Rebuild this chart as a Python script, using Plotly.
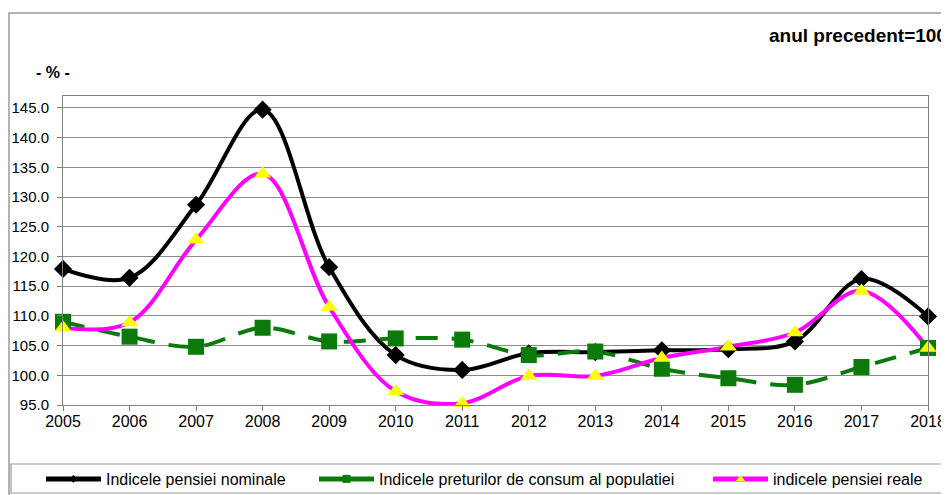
import plotly.graph_objects as go

years = list(range(2005, 2019))
nominal = [117.9, 116.4, 128.7, 144.7, 118.2, 103.4, 100.9, 103.7, 103.9, 104.2, 104.4, 105.7, 116.2, 109.9]
cpi = [109.0, 106.5, 104.8, 108.0, 105.7, 106.2, 106.0, 103.4, 104.0, 101.1, 99.5, 98.4, 101.4, 104.6]
real = [108.0, 108.9, 122.8, 133.9, 111.5, 97.3, 95.3, 99.9, 99.9, 102.9, 104.8, 107.2, 114.2, 104.6]

names = ["Indicele pensiei nominale", "Indicele preturilor de consum al populatiei", "indicele pensiei reale"]
y_ticks = [95, 100, 105, 110, 115, 120, 125, 130, 135, 140, 145]

OFF = 8  # page body margin offset
W, H = 949 - OFF, 495 - OFF
# plot area in screen pixels: left 63, right 928, top 96, bottom 405
L, R, T, B = 63 - OFF, W - (928 - OFF), 96 - OFF, H - (405 - OFF)
pw, ph = W - L - R, H - T - B

def px(x):
    return (x - OFF - L) / pw

def py(y):
    return (H - B - (y - OFF)) / ph

def cx(x):
    return (x - OFF) / W

def cy(y):
    return (H - (y - OFF)) / H

fig = go.Figure()
styles = [
    dict(line=dict(color="black", width=4, shape="spline", smoothing=1),
         marker=dict(symbol="diamond", size=14, color="black")),
    dict(line=dict(color="#0a7a0a", width=4, dash="22px,14px", shape="spline", smoothing=1),
         marker=dict(symbol="square", size=16, color="#0a7a0a")),
    dict(line=dict(color="#ff00ff", width=4, shape="spline", smoothing=1),
         marker=dict(symbol="triangle-up", size=15, color="#ffff00")),
]
series = [nominal, cpi, real]
legends = ["legend", "legend2", "legend3"]
for s, st, nm, lg in zip(series, styles, names, legends):
    fig.add_trace(go.Scatter(x=years, y=s, name=nm, mode="lines", line=st["line"],
                             cliponaxis=True, legend=lg, showlegend=False, hoverinfo="skip"))
for s, st, nm, lg in zip(series, styles, names, legends):
    fig.add_trace(go.Scatter(x=years, y=s, name=nm, mode="markers", marker=st["marker"],
                             cliponaxis=False, showlegend=False))
leg_styles = [
    dict(line=dict(color="black", width=5), marker=dict(symbol="diamond", size=6, color="black")),
    dict(line=dict(color="#0a7a0a", width=5), marker=dict(symbol="square", size=8, color="#0a7a0a")),
    dict(line=dict(color="#ff00ff", width=5), marker=dict(symbol="triangle-up", size=8, color="#ffff00")),
]
for st, nm, lg in zip(leg_styles, names, legends):
    fig.add_trace(go.Scatter(x=[None], y=[None], name=nm, mode="lines+markers", line=st["line"],
                             marker=st["marker"], legend=lg, showlegend=True))

fam = "Liberation Sans, Arial, sans-serif"
font = dict(family=fam, size=15, color="black")
leg_common = dict(orientation="h", yanchor="middle", y=cy(479), xanchor="left",
                  xref="container", yref="container", itemwidth=55,
                  bgcolor="rgba(0,0,0,0)", borderwidth=0, font=dict(family=fam, size=16, color="black"))
fig.update_layout(
    width=W, height=H,
    margin=dict(l=L, r=R, t=T, b=B, autoexpand=False),
    paper_bgcolor="white", plot_bgcolor="white",
    font=font,
    legend=dict(**leg_common, x=cx(41)),
    legend2=dict(**leg_common, x=cx(314)),
    legend3=dict(**leg_common, x=cx(708)),
    xaxis=dict(range=[2005, 2018], tickmode="array", tickvals=years, ticktext=[str(y) for y in years],
               showgrid=False, showline=True, linecolor="#808080", linewidth=1, mirror=True,
               ticks="outside", ticklen=5, tickcolor="#808080", zeroline=False,
               ticklabelstandoff=-3, tickfont=dict(family=fam, size=16)),
    yaxis=dict(range=[95, 147], tickmode="array", tickvals=y_ticks, ticktext=[f"{v:.1f}" for v in y_ticks],
               showgrid=True, gridcolor="#8c8c8c", gridwidth=1, showline=True, linecolor="#808080",
               linewidth=1, mirror=True, ticks="outside", ticklen=5, tickcolor="#808080", zeroline=False,
               ticklabelstandoff=5, tickfont=dict(family=fam, size=15)),
    shapes=[
        dict(type="rect", xref="paper", yref="paper", x0=px(9), x1=px(965), y0=py(510), y1=py(13),
             line=dict(color="#9a9a9a", width=1.5), fillcolor="rgba(0,0,0,0)", layer="below"),
        dict(type="rect", xref="paper", yref="paper", x0=px(11), x1=px(943), y0=py(493), y1=py(464),
             line=dict(color="#9a9a9a", width=1.2), fillcolor="rgba(0,0,0,0)", layer="below"),
    ],
    annotations=[
        dict(text="<b>anul precedent=100</b>", xref="paper", yref="paper", x=px(949), y=py(35),
             xanchor="right", yanchor="middle", showarrow=False,
             font=dict(family=fam, size=19, color="black")),
        dict(text="<b>- % -</b>", xref="paper", yref="paper", x=px(34), y=py(72),
             xanchor="left", yanchor="middle", showarrow=False,
             font=dict(family=fam, size=16, color="black")),
    ],
)
fig.write_html("out.html")
